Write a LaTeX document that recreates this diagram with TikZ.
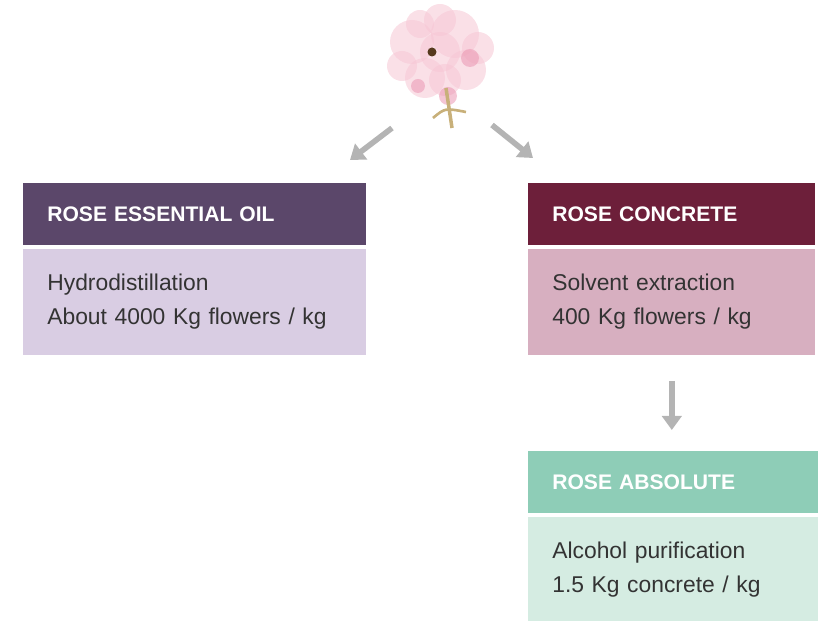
\documentclass[tikz,border=0pt]{standalone}
\usepackage{fontspec}
\setmainfont{Liberation Sans}
\usetikzlibrary{positioning,arrows.meta}

\definecolor{oilhead}{HTML}{5B476A}
\definecolor{oilbody}{HTML}{D9CDE3}
\definecolor{conchead}{HTML}{6D1F3A}
\definecolor{concbody}{HTML}{D7AFC0}
\definecolor{abshead}{HTML}{8ECDB7}
\definecolor{absbody}{HTML}{D5ECE2}
\definecolor{arrowgrey}{HTML}{B4B4B4}
\definecolor{petal}{HTML}{F6C6D4}
\definecolor{petaldark}{HTML}{EB97B2}
\definecolor{stem}{HTML}{C8B07A}

\begin{document}
\begin{tikzpicture}[x=0.02cm, y=-0.02cm,
        head/.style = {shape=rectangle, anchor=north west, minimum height=1.24cm,
            inner xsep=0.48cm, align=left, text=white, font=\bfseries\fontsize{12}{14}\selectfont},
        body/.style = {shape=rectangle, anchor=north west, minimum height=2.12cm,
            inner xsep=0.48cm, align=left, text=black!80, font=\fontsize{13}{19.5}\selectfont},
        flow/.style = {draw=arrowgrey, line width=3.2pt,
            -{Triangle[width=11pt,length=8pt]}}]
    \useasboundingbox (0,0) rectangle (823,621);

    % the rose
    \node[minimum size=2cm] (rose) at (440,60) {};
    \begin{scope}[opacity=0.55]
        \foreach \px/\py/\r in {412/42/22, 455/34/24, 425/78/20, 466/70/20, 440/20/16,
                402/66/15, 478/48/16, 440/52/20, 420/24/14, 445/80/16}
            \fill[petal] (\px,\py) circle (\r);
        \fill[petaldark] (448,96) circle (9);
        \fill[petaldark] (470,58) circle (9);
        \fill[petaldark] (418,86) circle (7);
    \end{scope}
    \fill[black!55!brown] (432,52) circle (4.5);
    \draw[stem, line width=2pt] (446,88) -- (452,128);
    \draw[stem, line width=1.5pt] (433,118) .. controls (445,108) .. (466,112);

    % the three products
    \node[head, fill=oilhead, text width=5.9cm] (essoil) at (23,183) {ROSE ESSENTIAL OIL};
    \node[body, fill=oilbody, text width=5.9cm, below=1.5pt of essoil.south west, anchor=north west]
        (essoilbody) {Hydrodistillation\\About 4000 Kg flowers / kg};

    \node[head, fill=conchead, text width=4.78cm] (concrete) at (528,183) {ROSE CONCRETE};
    \node[body, fill=concbody, text width=4.78cm, below=1.5pt of concrete.south west, anchor=north west]
        (concretebody) {Solvent extraction\\400 Kg flowers / kg};

    \node[head, fill=abshead, text width=4.84cm] (absolute) at (528,451) {ROSE ABSOLUTE};
    \node[body, fill=absbody, text width=4.84cm, below=1.5pt of absolute.south west, anchor=north west]
        (absolutebody) {Alcohol purification\\1.5 Kg concrete / kg};

    % arrows
    \coordinate (leftfrom) at (392,128);
    \coordinate (leftto) at (350,160);
    \coordinate (rightfrom) at (492,125);
    \coordinate (rightto) at (533,158);
    \draw[flow] (leftfrom) -- (leftto);
    \draw[flow] (rightfrom) -- (rightto);
    \draw[flow, shorten <=5.2mm, shorten >=4.2mm] (concretebody.south) -- (concretebody.south |- absolute.north);
\end{tikzpicture}
\end{document}
